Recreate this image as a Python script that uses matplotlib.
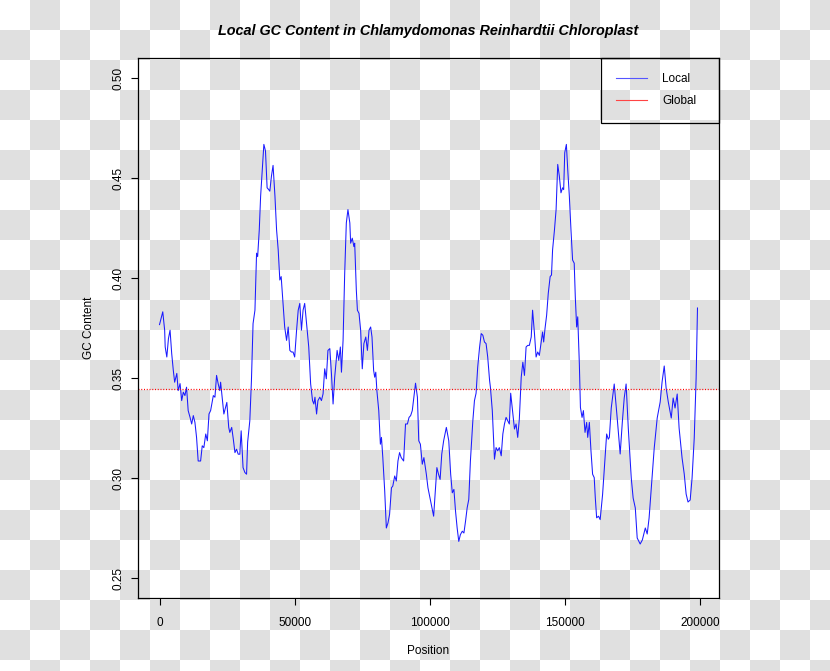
import numpy as np
import matplotlib
matplotlib.use("Agg")
import matplotlib.pyplot as plt
from matplotlib.lines import Line2D

plt.rcParams['font.family'] = ['Liberation Sans', 'DejaVu Sans']

title = "Local GC Content in Chlamydomonas Reinhardtii Chloroplast"
x_label = "Position"
y_label = "GC Content"
series_names = ["Local", "Global"]
global_gc = 0.3446
x_ticks = [0, 50000, 100000, 150000, 200000]
y_ticks = [0.25, 0.30, 0.35, 0.40, 0.45, 0.50]
y_limits = (0.25, 0.50)

position = [
    0, 1200, 1900, 2100, 2700, 3300, 3900, 4500, 5100, 5600,
    6400, 6900, 7600, 8200, 8800, 9400, 10000, 10600, 11300, 11900,
    12500, 13100, 13700, 14300, 15200, 15800, 16400, 17100, 17700, 18300,
    18900, 19900, 20500, 21100, 21700, 22300, 22600, 23300, 23800, 24600,
    24900, 25600, 26000, 26700, 27300, 27900, 28500, 29100, 29700, 30200,
    30900, 31600, 32200, 32600, 33400, 34000, 34600, 35300, 35900, 36300,
    36900, 37400, 38000, 38600, 39200, 39800, 40400, 40800, 41400, 42000,
    42700, 43300, 43900, 44500, 45000, 45700, 46300, 47000, 47600, 48200,
    48800, 49400, 50000, 50700, 51300, 51900, 52500, 53100, 53700, 54400,
    55200, 55900, 56600, 57100, 57500, 58100, 58600, 59300, 59900, 60500,
    61100, 61700, 62300, 63000, 63600, 64200, 64800, 65700, 66300, 66900,
    67300, 67900, 68500, 69100, 69700, 70400, 70700, 71300, 71900, 72200,
    72800, 73200, 73800, 74400, 75000, 75600, 76300, 76900, 77500, 78100,
    78600, 79200, 79600, 80000, 80400, 81100, 81700, 82100, 82600, 83300,
    83900, 84500, 85100, 85800, 86300, 87000, 87600, 88200, 88800, 89400,
    90300, 91000, 91700, 92300, 92900, 93500, 94100, 94700, 95400, 95900,
    96500, 97200, 97800, 98700, 99300, 99900, 100500, 101400, 102100, 102600,
    103200, 103800, 104400, 105100, 106100, 107000, 107700, 108300, 108900, 109500,
    110100, 110700, 111300, 112000, 112600, 113200, 113800, 114400, 115000, 115900,
    116500, 117100, 117700, 118400, 119000, 119600, 120200, 120800, 121400, 122100,
    122400, 123100, 123500, 123900, 124500, 125100, 125700, 126400, 127000, 127600,
    128200, 128800, 129400, 129900, 130600, 131300, 131900, 132500, 133100, 133800,
    134400, 135000, 135600, 136200, 136800, 137500, 138000, 138700, 139300, 139900,
    140500, 141100, 141700, 142100, 142600, 143200, 143800, 144500, 145000, 145400,
    146100, 146700, 147300, 147900, 148500, 149100, 149500, 149900, 150500, 151000,
    151600, 152200, 152800, 153400, 153800, 154300, 154700, 155300, 155700, 156300,
    156800, 157400, 158000, 158400, 159000, 159600, 160200, 160800, 161200, 161700,
    162400, 163000, 163900, 164800, 165400, 166000, 166400, 167100, 168200, 169300,
    170400, 171200, 171900, 172600, 173400, 174500, 175200, 176000, 176700, 177800,
    178600, 179700, 180400, 181100, 182200, 183000, 184100, 185200, 185900, 186700,
    187400, 188200, 189300, 190000, 190700, 191500, 192200, 193300, 194100, 194800,
    195500, 196300, 197000, 197800, 198500, 199000,
]

gc_local = [
    0.3767, 0.3831, 0.3739, 0.3655, 0.3605, 0.3697, 0.3739, 0.3623, 0.3538, 0.3479,
    0.3523, 0.3437, 0.3472, 0.3387, 0.3429, 0.3412, 0.3454, 0.3337, 0.3303, 0.3270,
    0.3312, 0.3278, 0.3203, 0.3085, 0.3085, 0.3161, 0.3152, 0.3220, 0.3186, 0.3320,
    0.3337, 0.3412, 0.3404, 0.3513, 0.3471, 0.3437, 0.3479, 0.3387, 0.3320, 0.3362,
    0.3378, 0.3253, 0.3228, 0.3253, 0.3194, 0.3127, 0.3144, 0.3119, 0.3119, 0.3236,
    0.3052, 0.3027, 0.3019, 0.3180, 0.3286, 0.3487, 0.3772, 0.3839, 0.4124, 0.4107,
    0.4241, 0.4409, 0.4543, 0.4668, 0.4635, 0.4451, 0.4442, 0.4434, 0.4509, 0.4563,
    0.4409, 0.4241, 0.4141, 0.3990, 0.4007, 0.3873, 0.3755, 0.3688, 0.3755, 0.3638,
    0.3630, 0.3630, 0.3605, 0.3739, 0.3839, 0.3873, 0.3739, 0.3839, 0.3873, 0.3772,
    0.3655, 0.3471, 0.3387, 0.3370, 0.3404, 0.3320, 0.3387, 0.3404, 0.3387, 0.3421,
    0.3546, 0.3496, 0.3638, 0.3647, 0.3521, 0.3370, 0.3504, 0.3638, 0.3588, 0.3655,
    0.3529, 0.3688, 0.4024, 0.4275, 0.4342, 0.4275, 0.4174, 0.4199, 0.4157, 0.4174,
    0.3940, 0.3839, 0.3823, 0.3739, 0.3546, 0.3672, 0.3705, 0.3638, 0.3739, 0.3755,
    0.3705, 0.3538, 0.3504, 0.3529, 0.3437, 0.3337, 0.3169, 0.3203, 0.3102, 0.2935,
    0.2750, 0.2775, 0.2818, 0.2951, 0.2960, 0.3010, 0.2985, 0.3085, 0.3127, 0.3102,
    0.3085, 0.3270, 0.3270, 0.3303, 0.3312, 0.3337, 0.3404, 0.3474, 0.3404, 0.3186,
    0.3169, 0.3069, 0.3102, 0.3019, 0.2951, 0.2910, 0.2868, 0.2809, 0.2951, 0.3052,
    0.3019, 0.2993, 0.3119, 0.3186, 0.3253, 0.3186, 0.3019, 0.2926, 0.2943, 0.2834,
    0.2750, 0.2683, 0.2717, 0.2734, 0.2725, 0.2784, 0.2851, 0.2893, 0.3085, 0.3286,
    0.3387, 0.3424, 0.3554, 0.3655, 0.3722, 0.3714, 0.3680, 0.3672, 0.3605, 0.3487,
    0.3454, 0.3337, 0.3220, 0.3094, 0.3152, 0.3136, 0.3152, 0.3111, 0.3220, 0.3270,
    0.3303, 0.3286, 0.3270, 0.3424, 0.3337, 0.3245, 0.3270, 0.3203, 0.3295, 0.3504,
    0.3579, 0.3513, 0.3655, 0.3663, 0.3663, 0.3705, 0.3839, 0.3722, 0.3605, 0.3630,
    0.3613, 0.3672, 0.3730, 0.3680, 0.3747, 0.3814, 0.3923, 0.4007, 0.4015, 0.4141,
    0.4241, 0.4342, 0.4568, 0.4509, 0.4426, 0.4451, 0.4442, 0.4627, 0.4668, 0.4543,
    0.4409, 0.4241, 0.4090, 0.4074, 0.3906, 0.3755, 0.3806, 0.3571, 0.3353, 0.3303,
    0.3337, 0.3228, 0.3278, 0.3203, 0.3278, 0.3136, 0.3019, 0.3002, 0.2901, 0.2801,
    0.2809, 0.2792, 0.2918, 0.3102, 0.3220, 0.3194, 0.3203, 0.3350, 0.3470, 0.3300,
    0.3120, 0.3280, 0.3400, 0.3470, 0.3250, 0.3000, 0.2900, 0.2850, 0.2700, 0.2670,
    0.2690, 0.2750, 0.2720, 0.2800, 0.3000, 0.3150, 0.3300, 0.3380, 0.3480, 0.3560,
    0.3450, 0.3380, 0.3300, 0.3400, 0.3350, 0.3420, 0.3250, 0.3100, 0.3020, 0.2920,
    0.2880, 0.2890, 0.3000, 0.3200, 0.3500, 0.3850,
]

W, H = 830, 671
fig = plt.figure(figsize=(W / 100, H / 100), dpi=100)

# transparent-background checkerboard as seen in the reference
yy, xx = np.mgrid[0:H, 0:W]
checker = ((yy // 30 + xx // 30) % 2 == 1)
img = np.where(checker[..., None], 224 / 255, 1.0) * np.ones((1, 1, 3))
fig.figimage(img, 0, 0, origin='upper', zorder=-10)

ax = fig.add_axes([138 / W, 1 - 598 / H, 581 / W, 540 / H])
ax.set_zorder(5)
ax.patch.set_alpha(0)

ax.plot(position, gc_local, color='#1a1aff', lw=0.75)
ax.axhline(global_gc, color='#ff0000', lw=0.9, linestyle=(0, (0.8, 1.4)))

xr = max(position) - min(position)
ax.set_xlim(min(position) - 0.04 * xr, max(position) + 0.04 * xr)
yr = y_limits[1] - y_limits[0]
ax.set_ylim(y_limits[0] - 0.04 * yr, y_limits[1] + 0.04 * yr)

ax.set_xticks(x_ticks)
ax.set_xticklabels([str(t) for t in x_ticks])
ax.set_yticks(y_ticks)
ax.set_yticklabels([f"{t:.2f}" for t in y_ticks])
ax.tick_params(axis='both', direction='out', length=5, width=0.8, colors='black',
               labelsize=8.5)
ax.tick_params(axis='x', pad=9)
ax.tick_params(axis='y', pad=5, labelrotation=90)
for lbl in ax.get_yticklabels():
    lbl.set_va('center')

for s in ax.spines.values():
    s.set_color('black')
    s.set_linewidth(0.9)

ax.set_xlabel(x_label, fontsize=8.5)
ax.xaxis.set_label_coords(0.5, -0.087)
ax.set_ylabel(y_label, fontsize=8.5)
ax.yaxis.set_label_coords(-0.074, 0.5)

t = fig.text((138 + 719) / 2 / W, 1 - 31 / H, title, ha='center', va='center',
             fontsize=10.4, fontweight='bold', fontstyle='italic')
t.set_zorder(5)

handles = [Line2D([], [], color='#5555ff', lw=0.8),
           Line2D([], [], color='#ff4444', lw=0.8)]
leg_x0 = 1 - 118 / 581
leg = ax.legend(handles, series_names, loc='upper right',
                bbox_to_anchor=(leg_x0, 0, 1 - leg_x0, 1), mode='expand',
                borderaxespad=0, fontsize=8.5, fancybox=False, frameon=True,
                facecolor='none', edgecolor='black', framealpha=1,
                handlelength=2.6, handletextpad=1.3, borderpad=1.3,
                labelspacing=0.85)
leg.get_frame().set_linewidth(0.9)

fig.savefig('out.png', dpi=100)
